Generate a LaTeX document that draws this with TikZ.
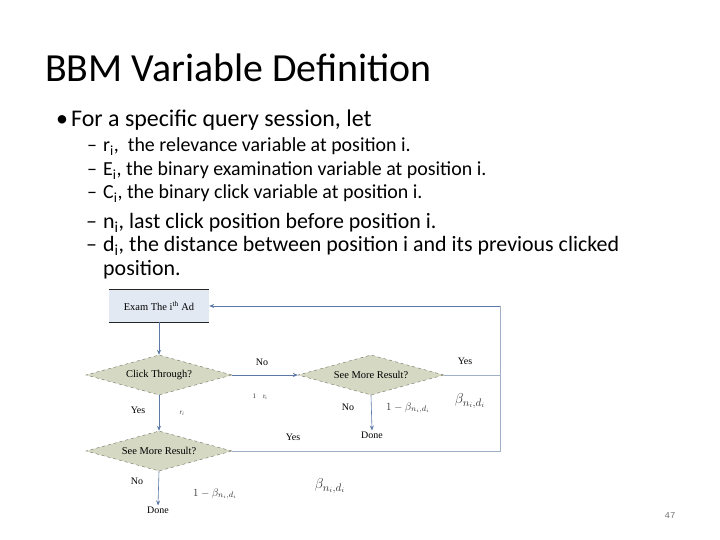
\documentclass[tikz,border=0pt]{standalone}
\usepackage{fontspec}
\setmainfont{Carlito}
\newfontfamily\diafont{Liberation Serif}
\newfontfamily\numfont{Liberation Mono}
\usetikzlibrary{shapes.geometric,arrows.meta}
\definecolor{linec}{HTML}{5B78A6}
\definecolor{loopc}{HTML}{9FB0C8}
\definecolor{boxfill}{HTML}{E3E9F3}
\definecolor{diafill}{HTML}{D5D8C3}
\definecolor{diadraw}{HTML}{6E7060}
\newcommand{\sbi}{\textsubscript{i}}
\begin{document}
\begin{tikzpicture}[x=1bp,y=-1bp,
  titletxt/.style={anchor=base west,inner sep=0pt,font=\fontsize{40}{44}\selectfont},
  lvlone/.style={anchor=base west,inner sep=0pt,font=\fontsize{24}{28}\selectfont},
  lvltwoa/.style={anchor=base west,inner sep=0pt,font=\fontsize{20}{24}\selectfont},
  lvltwob/.style={anchor=base west,inner sep=0pt,font=\fontsize{22}{26}\selectfont},
  adbox/.style={rectangle,fill=boxfill,minimum width=100bp,minimum height=32bp,inner sep=0pt,font=\diafont\fontsize{10.5}{12}\selectfont},
  decision/.style={diamond,fill=diafill,draw=diadraw,dashed,line width=0.4pt,minimum width=146bp,minimum height=40bp,aspect=3.65,inner sep=0pt,font=\diafont\fontsize{10.5}{12}\selectfont},
  endtxt/.style={inner sep=1pt,font=\diafont\fontsize{10}{12}\selectfont},
  lbl/.style={inner sep=0pt,font=\diafont\fontsize{10}{12}\selectfont},
  flow/.style={draw=linec,line width=0.6pt,-{Stealth[length=5bp,width=4bp]}},
  loop/.style={draw=loopc,line width=0.8pt},
  mathlbl/.style={inner sep=0pt,text=black!80}
]
\useasboundingbox (0,0) rectangle (720,540);
\fill[white] (0,0) rectangle (720,540);

% texts
\node[titletxt] (title) at (45,82) {BBM Variable Definition};
\node[lvlone] (bul) at (56,127) {\textbullet};
\node[lvlone] (l0) at (71,127) {For a specific query session, let};
\node[lvltwoa] (d1m) at (87,152) {–};
\node[lvltwoa] (l1) at (103,152) {r\sbi,\ \ the relevance variable at position i.};
\node[lvltwoa] (d2m) at (87,176) {–};
\node[lvltwoa] (l2) at (103,176) {E\sbi, the binary examination variable at position i.};
\node[lvltwoa] (d3m) at (87,199) {–};
\node[lvltwoa] (l3) at (103,199) {C\sbi, the binary click variable at position i.};
\node[lvltwob] (d4m) at (86,229) {–};
\node[lvltwob] (l4) at (103,229) {n\sbi, last click position before position i.};
\node[lvltwob] (d5m) at (86,252) {–};
\node[lvltwob,text depth=1bp] (l5) at (103,252) {d\sbi, the distance between position i and its previous clicked};
\node[lvltwob,text height=12bp] (l6) at (103,276) {position.};

% diagram
\node[adbox] (ad) at (159,306) {Exam The i\textsuperscript{th} Ad};
\draw[black!85,line width=1pt] (ad.north west) -- (ad.north east);
\draw[black!85,line width=1pt] (ad.south west) -- (ad.south east);
\node[decision] (ct) at (159,375) {Click Through?};
\node[decision] (smr) at (371,375) {See More Result?};
\node[decision] (sml) at (159,451) {See More Result?};
\node[endtxt] (donel) at (158,510) {Done};
\node[endtxt] (doner) at (372,435) {Done};
\coordinate (cr) at (500,375);
\coordinate (ctop) at (500,306);
\coordinate (cj) at (500,451);

\draw[flow] (ad.south) -- (ct.north);
\draw[flow] (ct.south) -- (sml.north);
\draw[flow] (sml.south) -- (donel.north);
\draw[flow] (ct.east) -- (smr.west);
\draw[flow] (smr.south) -- (doner.north);
\draw[loop] (smr.east) -- (cr) -- (ctop);
\draw[loop,-{Stealth[length=5bp,width=4bp]},draw=linec] (ctop) -- (ad.east);
\draw[loop] (sml.east) -- (cj) -- (cr);

% labels
\node[lbl] (no1) at (262,362) {No};
\node[lbl] (yes1) at (465,361) {Yes};
\node[lbl] (yes2) at (138,410) {Yes};
\node[lbl] (no2) at (348,407) {No};
\node[lbl] (yes3) at (293,437) {Yes};
\node[lbl] (no3) at (137,481) {No};
\node[mathlbl,font=\diafont\fontsize{7}{8}\selectfont] (frag1) at (260,397) {1\hspace{7bp}r\textsubscript{i}};
\node[mathlbl,font=\diafont\itshape\fontsize{7}{8}\selectfont] (frag2) at (182,413) {r\textsubscript{i}};
\node[mathlbl,font=\fontsize{11}{13}\selectfont] (m1) at (408,408) {$1-\beta_{n_i,d_i}$};
\node[mathlbl,font=\fontsize{15}{17}\selectfont] (m2) at (470,401) {$\beta_{n_i,d_i}$};
\node[mathlbl,font=\fontsize{11}{13}\selectfont] (m3) at (215,494) {$1-\beta_{n_i,d_i}$};
\node[mathlbl,font=\fontsize{15}{17}\selectfont] (m4) at (330,486) {$\beta_{n_i,d_i}$};

\node[inner sep=0pt,font=\numfont\fontsize{9}{11}\selectfont,text=black!55] (pg) at (670,516) {47};
\end{tikzpicture}
\end{document}
